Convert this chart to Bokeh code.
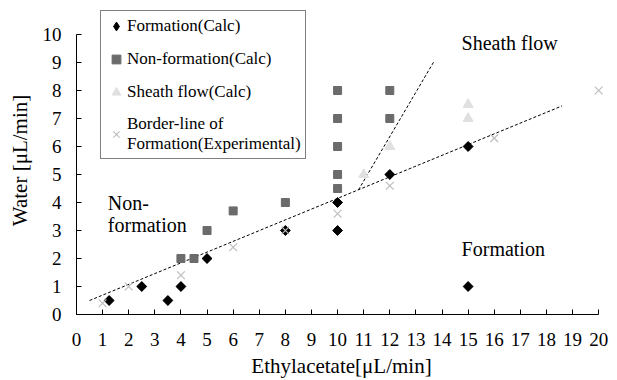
import math
from bokeh.plotting import figure
from bokeh.models import Legend, LegendItem, Label, FixedTicker, Range1d, Title
from bokeh.embed import file_html
from bokeh.resources import INLINE

# ---- data ----
form_x = [1.25, 2.5, 3.5, 4, 5, 8, 10, 10, 12, 15, 15]
form_y = [0.5, 1, 0.5, 1, 2, 3, 3, 4, 5, 6, 1]

nonform_x = [4, 4.5, 5, 6, 8, 10, 10, 10, 10, 10, 12, 12]
nonform_y = [2, 2, 3, 3.7, 4, 4.5, 5, 6, 7, 8, 7, 8]

sheath_x = [11, 12, 15, 15]
sheath_y = [5, 6, 7, 7.5]

border_x = [1, 2, 4, 6, 8, 10, 12, 16, 20]
border_y = [0.4, 1, 1.4, 2.4, 3, 3.6, 4.6, 6.3, 8]

line1_x = [0.5, 18.6]
line1_y = [0.5, 7.45]
line2_x = [10.8, 13.7]
line2_y = [4.45, 9.05]

x_ticks = list(range(0, 21))
y_ticks = list(range(0, 11))

FONT = "Liberation Serif"

# frame extends a little beyond the axes' ends so that the legend and edge
# markers are not clipped; the axis lines are bounded to 0..20 and 0..10
p = figure(frame_width=530, frame_height=308, output_backend="svg", toolbar_location=None,
           x_range=Range1d(0, 20.3), y_range=Range1d(0, 11),
           min_border_left=76, min_border_right=5, min_border_top=6,
           min_border_bottom=0)
p.outline_line_color = None
p.xgrid.visible = False
p.ygrid.visible = False

for ax in (p.xaxis[0], p.yaxis[0]):
    ax.major_tick_in = 5
    ax.major_tick_out = 0
    ax.minor_tick_line_color = None
    ax.axis_line_color = "black"
    ax.major_tick_line_color = "black"
    ax.major_label_text_font = FONT
    ax.major_label_text_font_size = "19px"
    ax.major_label_text_color = "black"
    ax.axis_label_text_font = FONT
    ax.axis_label_text_font_size = "21px"
    ax.axis_label_text_font_style = "normal"
    ax.axis_label_text_color = "black"

p.xaxis.ticker = FixedTicker(ticks=x_ticks)
p.yaxis.ticker = FixedTicker(ticks=y_ticks)
p.xaxis.bounds = (0, 20)
p.yaxis.bounds = (0, 10)
p.xaxis.major_label_standoff = 18
p.yaxis.major_label_standoff = 15
p.yaxis.axis_label = "Water [μL/min]"
p.yaxis.axis_label_standoff = 8

# x-axis title as a title in the panel below the axis
xtitle = Title(text="Ethylacetate[μL/min]", align="center", text_font=FONT,
               text_font_size="21px", text_font_style="normal", text_color="black",
               standoff=6, offset=0)
p.add_layout(xtitle, "below")

# dashed lines
p.line(line1_x, line1_y, line_color="black", line_dash="3 2", line_width=1)
p.line(line2_x, line2_y, line_color="black", line_dash="3 2", line_width=1)

# diamond key (also used by the legend, since legend glyphs ignore marker angle);
# the rotated squares drawn on top of it give the final diamond shape
r_form = p.scatter(form_x, form_y, marker="diamond", size=9,
                   fill_color="black", line_color="black")
p.scatter(form_x, form_y, marker="square", angle=math.pi / 4, size=7,
          fill_color="black", line_color="black")
r_non = p.scatter(nonform_x, nonform_y, marker="square", size=8,
                  fill_color="#6b6b6b", line_color="#6b6b6b")
r_sheath = p.scatter(sheath_x, sheath_y, marker="triangle", size=10,
                     fill_color="#e0e0e0", line_color="#e0e0e0")
r_border = p.scatter(border_x, border_y, marker="x", size=11,
                     line_color="#bdbdbd", line_width=1.2)

legend = Legend(items=[
    LegendItem(label="Formation(Calc)", renderers=[r_form]),
    LegendItem(label="Non-formation(Calc)", renderers=[r_non]),
    LegendItem(label="Sheath flow(Calc)", renderers=[r_sheath]),
    LegendItem(label="Border-line of\nFormation(Experimental)", renderers=[r_border]),
], location=(24, 155))
legend.label_text_font = FONT
legend.label_text_font_size = "17px"
legend.label_text_color = "black"
legend.label_text_line_height = 1.1
legend.border_line_color = "black"
legend.border_line_width = 1
legend.background_fill_color = "white"
legend.background_fill_alpha = 1
legend.padding = 4
legend.margin = 0
legend.spacing = 11
legend.glyph_width = 22
legend.glyph_height = 22
legend.label_height = 18
legend.label_standoff = 0
p.add_layout(legend, "center")

for txt, x, y in [("Sheath flow", 14.75, 9.7), ("Formation", 14.75, 2.35),
                  ("Non-", 1.2, 4.0), ("formation", 1.2, 3.2)]:
    p.add_layout(Label(x=x, y=y, text=txt, text_font=FONT, text_font_size="20px",
                       text_baseline="middle", text_align="left", text_color="black"))

open("out.html", "w").write(file_html(p, INLINE))
